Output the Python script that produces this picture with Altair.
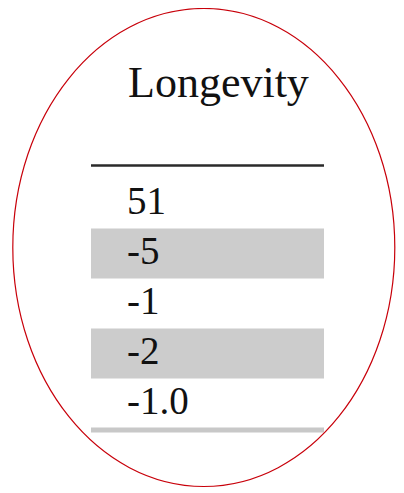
import altair as alt
import pandas as pd

# ---- data ----
header = ["Longevity"]
values = ["51", "-5", "-1", "-2", "-1.0"]
shaded = [False, True, False, True, False]

rows = pd.DataFrame({
    "label": values,
    "row": list(range(len(values))),
    "shaded": shaded,
})
rows["lo"] = rows["row"] - 0.5
rows["hi"] = rows["row"] + 0.5
bands = rows[rows["shaded"]]

W, H = 388, 480
Y0, STEP = 195.5, 50.0
yscale = alt.Scale(domain=[-Y0 / STEP, (H - Y0) / STEP], reverse=True, nice=False, zero=False)

FONT = "Liberation Serif"
TXT = "#111111"

band_layer = alt.Chart(bands).mark_rect(color="#cccccc").encode(
    x=alt.value(83), x2=alt.value(316),
    y=alt.Y("lo:Q", scale=yscale, axis=None), y2="hi:Q",
)

text_layer = alt.Chart(rows).mark_text(
    align="left", baseline="alphabetic", dy=10.5, font=FONT, fontSize=39, color=TXT
).encode(
    x=alt.value(119),
    y=alt.Y("row:Q", scale=yscale, axis=None),
    text="label:N",
)

hdr = pd.DataFrame({"label": header, "row": [-2.13]})
header_layer = alt.Chart(hdr).mark_text(
    align="left", baseline="alphabetic", font=FONT, fontSize=44, color=TXT
).encode(
    x=alt.value(120),
    y=alt.Y("row:Q", scale=yscale, axis=None),
    text="label:N",
)

rules = pd.DataFrame({"row": [-0.76, 4.53], "kind": ["top", "bottom"]})
top_rule = alt.Chart(rules[rules.kind == "top"]).mark_rule(color="#2a2a2a", strokeWidth=2.6).encode(
    x=alt.value(83), x2=alt.value(316), y=alt.Y("row:Q", scale=yscale, axis=None)
)
bottom_rule = alt.Chart(rules[rules.kind == "bottom"]).mark_rule(color="#c8c8c8", strokeWidth=5).encode(
    x=alt.value(83), x2=alt.value(316), y=alt.Y("row:Q", scale=yscale, axis=None)
)

# decorative red ellipse
rx, ry = 191.0, 239.0
k = rx / ry
path = f"M {-k} 0 A {k} 1 0 1 1 {k} 0 A {k} 1 0 1 1 {-k} 0 Z"
ellipse = alt.Chart(pd.DataFrame({"a": [0]})).mark_point(
    shape=path, size=(2 * ry) ** 2, filled=False, stroke="#c8000a", strokeWidth=1.2, opacity=1
).encode(x=alt.value(195.8), y=alt.value(239.5))

chart = alt.layer(
    band_layer, bottom_rule, top_rule, header_layer, text_layer, ellipse
).resolve_scale(y="independent").properties(
    width=W, height=H, autosize=alt.AutoSizeParams(type="none"), padding=0, background="white"
).configure_view(stroke=None)

chart.save("out.html", embed_options={"renderer": "svg", "actions": False})
